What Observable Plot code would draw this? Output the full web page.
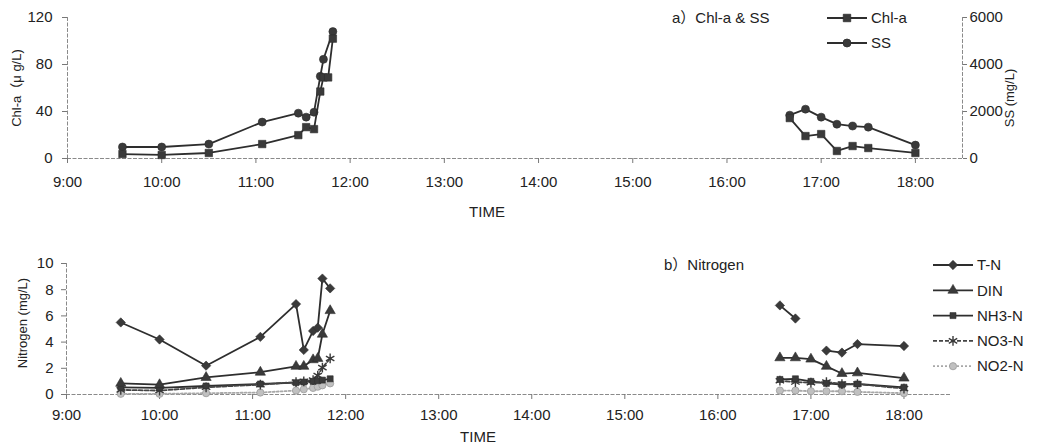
<!DOCTYPE html>
<html>
<head>
<meta charset="utf-8">
<script src="https://cdn.jsdelivr.net/npm/d3@7"></script>
<script src="https://cdn.jsdelivr.net/npm/@observablehq/plot@0.6"></script>
<style>
  html, body { margin: 0; padding: 0; background: #fff; }
  #chart { width: 1037px; height: 446px; overflow: hidden; }
  #chart svg { display: block; }
</style>
</head>
<body>
<div id="chart"></div>
<script>
// ---------- data ----------
const hourTicks = [9, 10, 11, 12, 13, 14, 15, 16, 17, 18];

// a) Chl-a & SS
const timesChl = ["9:35","10:00","10:30","11:04","11:27","11:32","11:37","11:41","11:43","11:46","11:49",
                  "16:40","16:50","17:00","17:10","17:20","17:30","18:00"];
const chla     = [3.8, 3.0, 4.7, 12.3, 19.9, 26.7, 25.0, 57, 69, 69, 102,
                  34.4, 19.1, 20.8, 6.4, 10.6, 8.9, 4.7];
const timesSS  = ["9:35","10:00","10:30","11:04","11:27","11:32","11:37","11:41","11:43","11:49",
                  "16:40","16:50","17:00","17:10","17:20","17:30","18:00"];
const ss       = [490, 490, 615, 1550, 1930, 1760, 1970, 3500, 4220, 5400,
                  1845, 2100, 1760, 1460, 1380, 1335, 570];
const chlTicks = [0, 40, 80, 120];
const ssFactor = 50; // 6000 mg/L on the right axis = 120 on the left axis

// b) Nitrogen
const timesN = ["9:35","10:00","10:30","11:05","11:28","11:33","11:39","11:42","11:45","11:50",
                "16:40","16:50","17:00","17:10","17:20","17:30","18:00"];
const TN  = [5.5, 4.2, 2.2, 4.4, 6.9, 3.4, 4.85, 5.1, 8.85, 8.1,   6.8, 5.8, null, 3.35, 3.2, 3.85, 3.7];
const DIN = [0.85, 0.75, 1.3, 1.7, 2.15, 2.15, 2.65, 2.75, 4.6, 6.4, 2.8, 2.8, 2.7, 2.15, 1.6, 1.65, 1.25];
const NH3 = [0.55, 0.5, 0.65, 0.8, 0.9, 0.95, 1.0, 1.05, 1.1, 1.2,  1.15, 1.2, 1.0, 0.85, 0.75, 0.8, 0.55];
const NO3 = [0.35, 0.3, 0.55, 0.75, 0.95, 1.0, 1.1, 1.45, 2.05, 2.75, 1.05, 0.95, 0.9, 0.95, 0.8, 0.8, 0.45];
const NO2 = [0.05, 0.05, 0.1, 0.15, 0.3, 0.4, 0.5, 0.6, 0.7, 0.85,  0.3, 0.3, 0.25, 0.25, 0.25, 0.2, 0.1];
const nTicks = [0, 2, 4, 6, 8, 10];

// ---------- helpers ----------
const FONT = '"Liberation Sans", Arial, "Noto Sans CJK JP", sans-serif';
const hm = s => { const [h, m] = s.split(":").map(Number); return h + m / 60; };
const rows = (times, vals) => times.map((t, i) => ({t: hm(t), v: vals[i], session: hm(t) < 14 ? "am" : "pm"}));
const axisStroke = {stroke: "#8a8a8a", strokeWidth: 1, strokeDasharray: "4,1.5"};

const chlRows = rows(timesChl, chla);
const ssRows = rows(timesSS, ss);

const nSeries = [
  {name: "T-N",   vals: TN,  symbol: "diamond2", line: "#2e2e2e", dash: null,  fill: "#3a3a3a", stroke: "#2e2e2e", r: 4.2, sw: 0.6},
  {name: "DIN",   vals: DIN, symbol: "triangle", line: "#2e2e2e", dash: null,  fill: "#3a3a3a", stroke: "#2e2e2e", r: 3.8, sw: 0.6},
  {name: "NH3-N", vals: NH3, symbol: "square",   line: "#2e2e2e", dash: null,  fill: "#3a3a3a", stroke: "#2e2e2e", r: 3.4, sw: 0.6},
  {name: "NO3-N", vals: NO3, symbol: "asterisk", line: "#444",    dash: "4,2", fill: "none",    stroke: "#3a3a3a", r: 4.6, sw: 1.4},
  {name: "NO2-N", vals: NO2, symbol: "circle",   line: "#a8a8a8", dash: "2,2", fill: "#c0c0c0", stroke: "#9a9a9a", r: 3.6, sw: 0.8}
];

const symbolMap = {square: d3.symbolSquare, circle: d3.symbolCircle, diamond2: d3.symbolDiamond2,
                   triangle: d3.symbolTriangle, asterisk: d3.symbolAsterisk};

function addText(svg, x, y, text, size, anchor, rotate) {
  const t = svg.append("text")
    .attr("text-anchor", anchor).attr("dy", "0.35em")
    .attr("font-size", size).attr("fill", "#222").text(text);
  t.attr("transform", rotate ? `translate(${x},${y}) rotate(${rotate})` : `translate(${x},${y})`);
  return t;
}

function addLegendItem(svg, x0, x1, y, spec, label) {
  const g = svg.append("g");
  g.append("line").attr("x1", x0).attr("x2", x1).attr("y1", y).attr("y2", y)
    .attr("stroke", spec.line).attr("stroke-width", 1.8)
    .attr("stroke-dasharray", spec.dash || null);
  g.append("path")
    .attr("transform", `translate(${(x0 + x1) / 2},${y})`)
    .attr("d", d3.symbol(symbolMap[spec.symbol], Math.PI * spec.r * spec.r)())
    .attr("fill", spec.fill).attr("stroke", spec.stroke).attr("stroke-width", spec.sw ?? 0.8);
  addText(g, x1 + 4, y, label, 15, "start");
}

// ---------- top chart ----------
const topChart = Plot.plot({
  width: 1037, height: 225,
  marginLeft: 67, marginRight: 75, marginTop: 17, marginBottom: 67,
  style: {fontFamily: FONT, fontSize: "15px", color: "#222", background: "#fff", overflow: "visible"},
  x: {domain: [9, 18.5], label: null},
  y: {domain: [0, 120], label: null},
  marks: [
    Plot.ruleX([9, 18.5], axisStroke),
    Plot.ruleY([0], axisStroke),
    Plot.axisX({ticks: hourTicks, tickFormat: d => `${d}:00`, tickSize: 5, tickPadding: 13, stroke: "#777"}),
    Plot.axisY({ticks: chlTicks, tickSize: 5, tickPadding: 10, stroke: "#777"}),
    Plot.axisY({anchor: "right", ticks: chlTicks, tickFormat: d => String(d * ssFactor), tickSize: 4, tickPadding: 3, stroke: "#777"}),
    Plot.line(ssRows, {x: "t", y: d => d.v / ssFactor, z: "session", stroke: "#2e2e2e", strokeWidth: 1.8}),
    Plot.dot(ssRows, {x: "t", y: d => d.v / ssFactor, symbol: "circle", r: 4, fill: "#3a3a3a", stroke: "#2e2e2e", strokeWidth: 0.6}),
    Plot.line(chlRows, {x: "t", y: "v", z: "session", stroke: "#2e2e2e", strokeWidth: 1.8}),
    Plot.dot(chlRows, {x: "t", y: "v", symbol: "square", r: 4.2, fill: "#3a3a3a", stroke: "#2e2e2e", strokeWidth: 0.6})
  ]
});

// ---------- bottom chart ----------
const nRows = nSeries.flatMap(s => rows(timesN, s.vals).map(d => ({...d, series: s.name})));
const nMarks = [];
for (const s of nSeries) {
  const data = nRows.filter(d => d.series === s.name);
  nMarks.push(Plot.line(data, {x: "t", y: "v", z: "session", stroke: s.line, strokeWidth: 1.8, strokeDasharray: s.dash || undefined}));
}
for (const s of nSeries.slice().reverse()) {
  const data = nRows.filter(d => d.series === s.name && d.v != null);
  nMarks.push(Plot.dot(data, {x: "t", y: "v", symbol: s.symbol, r: s.r, fill: s.fill, stroke: s.stroke, strokeWidth: s.sw}));
}

const botChart = Plot.plot({
  width: 1037, height: 221,
  marginLeft: 66, marginRight: 87, marginTop: 38, marginBottom: 52,
  style: {fontFamily: FONT, fontSize: "15px", color: "#222", background: "#fff", overflow: "visible"},
  x: {domain: [9, 18.5], label: null},
  y: {domain: [0, 10], label: null},
  marks: [
    Plot.ruleX([9], axisStroke),
    Plot.ruleY([0], axisStroke),
    Plot.axisX({ticks: hourTicks, tickFormat: d => `${d}:00`, tickSize: 5, tickPadding: 10, stroke: "#777"}),
    Plot.axisY({ticks: nTicks, tickSize: 5, tickPadding: 8, stroke: "#777"}),
    ...nMarks
  ]
});

const root = document.getElementById("chart");
root.append(topChart, botChart);

// ---------- annotations, titles, legends ----------
const sTop = d3.select(topChart);
addText(sTop, 16, 88, "Chl-a（μ g/L)", 13, "middle", -90);
addText(sTop, 1009, 98, "SS (mg/L)", 13, "middle", -90);
addText(sTop, 487, 212, "TIME", 15, "middle");
addText(sTop, 672, 18, "a）Chl-a & SS", 15, "start");
addLegendItem(sTop, 827, 867, 18, {symbol: "square", line: "#2e2e2e", fill: "#3a3a3a", stroke: "#2e2e2e", r: 4.2}, "Chl-a");
addLegendItem(sTop, 827, 867, 43, {symbol: "circle", line: "#2e2e2e", fill: "#3a3a3a", stroke: "#2e2e2e", r: 4}, "SS");

const sBot = d3.select(botChart);
addText(sBot, 22, 98, "Nitrogen (mg/L)", 13, "middle", -90);
addText(sBot, 478, 212, "TIME", 15, "middle");
addText(sBot, 664, 40, "b）Nitrogen", 15, "start");
nSeries.forEach((s, i) => addLegendItem(sBot, 933, 973, 40 + i * 25.3, s, s.name));
</script>
</body>
</html>
